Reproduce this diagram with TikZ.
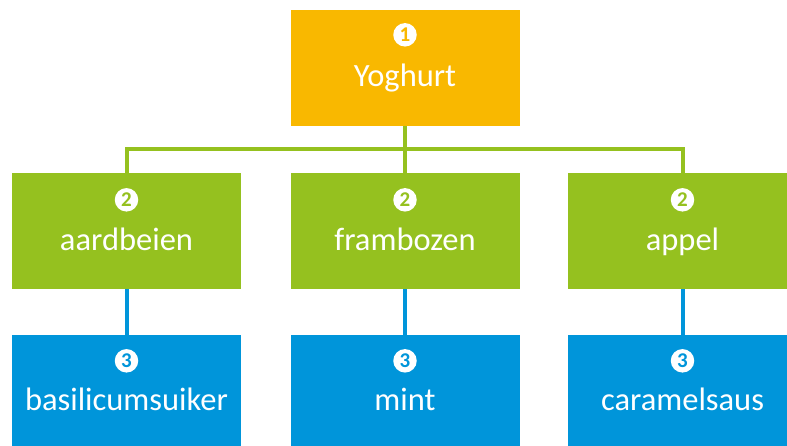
\documentclass[tikz,border=0pt]{standalone}
\usepackage{fontspec}
\setmainfont{Carlito}
\definecolor{yogorange}{HTML}{F9B800}
\definecolor{fruitgreen}{HTML}{95C11F}
\definecolor{toppingblue}{HTML}{0095DA}
\tikzset{
  card/.style={rectangle, draw=none, minimum width=229pt, minimum height=116pt, inner sep=0pt},
  word/.style={text=white, anchor=base, inner sep=0pt, font=\fontsize{32.5}{38}\selectfont},
  badge/.style={circle, fill=white, minimum size=23.5pt, inner sep=0pt, font=\bfseries\fontsize{21}{22}\selectfont},
  link/.style={line width=4pt},
}
\begin{document}
\begin{tikzpicture}[x=1pt,y=-1pt]
\useasboundingbox (0,0) rectangle (787,445);
\clip (0,0) rectangle (787,445);
\fill[white] (0,0) rectangle (787,445);

% junction of the green branch lines
\coordinate (bar) at (405,149);

% boxes
\node[card, fill=yogorange] (top) at (405,68) {};
\node[card, fill=fruitgreen] (g1) at (126.5,231) {};
\node[card, fill=fruitgreen] (g2) at (405,231) {};
\node[card, fill=fruitgreen] (g3) at (682.5,231) {};
\node[card, fill=toppingblue] (b1) at (126.5,393) {};
\node[card, fill=toppingblue] (b2) at (405,393) {};
\node[card, fill=toppingblue] (b3) at (682.5,393) {};

% connectors
\draw[link, fruitgreen] (top.south) -- (g2.north);
\draw[link, fruitgreen] (bar) -| (g1.north);
\draw[link, fruitgreen] (bar) -| (g3.north);
\draw[link, toppingblue] (g1.south) -- (b1.north);
\draw[link, toppingblue] (g2.south) -- (b2.north);
\draw[link, toppingblue] (g3.south) -- (b3.north);

% level badges
\node[badge, text=yogorange] (n0) at ([yshift=-25pt]top.north) {1};
\node[badge, text=fruitgreen] (n1) at ([yshift=-27pt]g1.north) {2};
\node[badge, text=fruitgreen] (n2) at ([yshift=-27pt]g2.north) {2};
\node[badge, text=fruitgreen] (n3) at ([yshift=-27pt]g3.north) {2};
\node[badge, text=toppingblue] (n4) at ([yshift=-26pt]b1.north) {3};
\node[badge, text=toppingblue] (n5) at ([yshift=-26pt]b2.north) {3};
\node[badge, text=toppingblue] (n6) at ([yshift=-26pt]b3.north) {3};

% labels
\node[word] (t0) at ([yshift=-77pt]top.north) {Yoghurt};
\node[word] (t1) at ([yshift=-78pt]g1.north) {aardbeien};
\node[word] (t2) at ([yshift=-78pt]g2.north) {frambozen};
\node[word] (t3) at ([yshift=-78pt]g3.north) {appel};
\node[word] (t4) at ([yshift=-76pt]b1.north) {basilicumsuiker};
\node[word] (t5) at ([yshift=-76pt]b2.north) {mint};
\node[word] (t6) at ([yshift=-76pt]b3.north) {caramelsaus};
\end{tikzpicture}
\end{document}
